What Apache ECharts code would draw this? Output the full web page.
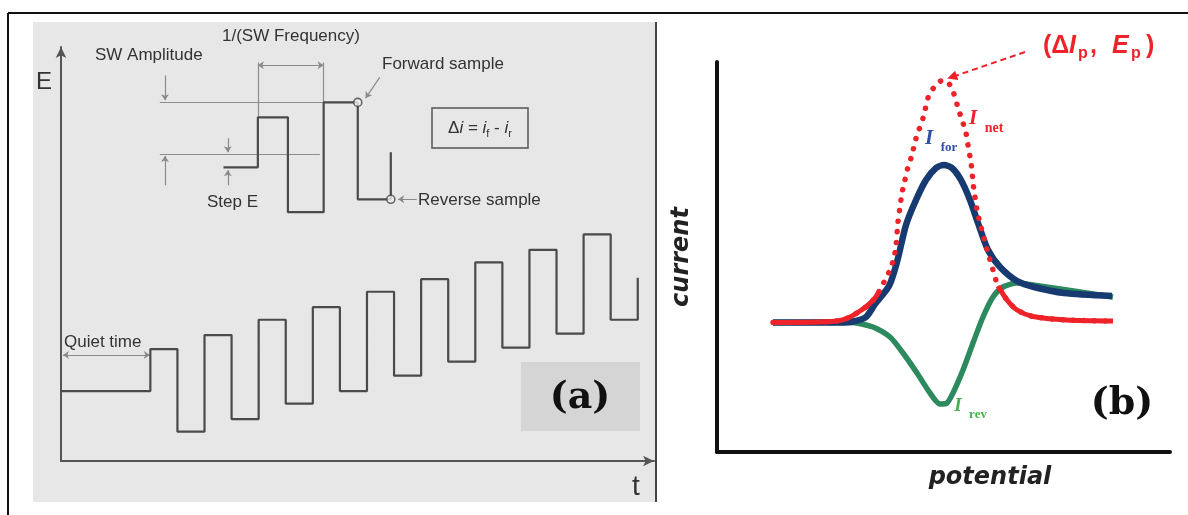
<!DOCTYPE html>
<html><head><meta charset="utf-8">
<script src="https://cdn.jsdelivr.net/npm/echarts@6/dist/echarts.min.js"></script>
<style>html,body{margin:0;padding:0;background:#fff}#c{width:1188px;height:515px}</style>
</head><body><div id="c"></div>
<script>
// ---------- Panel (a): square-wave potential programme ----------
// t in half-periods, E in step-E units
const waveT = [0, 3.3, 4.3, 5.3, 6.3, 7.3, 8.3, 9.3, 10.3, 11.3, 12.3, 13.3, 14.3, 15.3, 16.3, 17.3, 18.3, 19.3, 20.3, 21.3];
const waveE = [5.0, 8.0, 2.1, 9.0, 3.0, 10.1, 4.1, 11.0, 5.0, 12.1, 6.1, 13.0, 7.1, 14.2, 8.1, 15.1, 9.1, 16.2, 10.1, 13.1];
// magnified inset of one cycle
const insetT = [6.0, 7.27, 8.38, 9.70, 10.96, 12.18];
const insetE = [21.0, 24.57, 17.79, 25.64, 18.71, 22.07];
const samplePts = [[10.96, 25.64], [12.18, 18.71]]; // forward, reverse sample
// annotation guides / arrows (same t,E units)
const guideSegs = [[[7.27,28.5],[7.27,24.57]], [[9.70,28.5],[9.70,25.64]], [[3.65,25.64],[9.70,25.64]], [[3.65,21.93],[9.56,21.93]]];
const pointerSegs = [[[3.84,27.57],[3.84,25.8]], [[3.84,19.71],[3.84,21.8]], [[6.16,23.07],[6.16,22.07]], [[6.16,19.71],[6.16,20.79]], [[11.77,27.43],[11.25,25.95]], [[13.14,18.71],[12.45,18.71]]];
const spanSegs = [[[7.27,28.29],[9.70,28.29]], [[0.07,7.57],[3.28,7.57]]];

// ---------- Panel (b): square-wave voltammogram ----------
const netX = [5.6,10.3,12.3,13.3,14.3,15.0,15.8,16.3,16.9,17.3,17.7,17.9,18.1,18.3,18.5,18.8,19.1,19.5,19.8,20.1,20.5,20.8,21.2,21.9,22.6,23.3,23.8,24.1,24.5,24.9,25.1,25.3,25.5,25.6,25.8,26.0,26.3,26.7,27.1,27.6,28.1,29.0,30.0,31.6,35.0,39.6];
const netY = [12.95,13.0,13.15,13.5,14.1,14.6,15.4,16.2,17.4,18.2,19.4,20.7,23.0,24.5,25.9,27.2,28.5,29.7,31.0,32.0,33.0,34.2,35.7,36.7,37.2,36.7,35.5,34.4,33.2,31.9,30.7,29.5,28.2,26.9,25.5,24.2,22.9,21.4,19.9,18.2,16.6,15.2,14.2,13.55,13.2,13.1];
const forX = [5.6,12.3,13.6,14.9,15.8,17.2,18.0,18.9,19.9,20.9,21.9,22.7,23.5,24.4,25.3,26.1,27.1,28.3,30.0,31.7,34.7,39.5];
const forY = [12.95,12.95,13.05,13.5,14.8,16.6,19.0,22.7,25.2,27.2,28.4,28.7,28.4,27.2,25.2,22.9,20.2,18.5,17.1,16.5,15.9,15.6];
const revX = [5.6,13.3,15.6,17.3,18.6,20.0,21.3,22.3,23.0,23.6,24.6,25.6,26.6,27.6,28.6,30.0,31.6,35.0,39.6];
const revY = [12.95,12.95,12.5,11.5,9.9,7.9,5.9,4.8,4.9,5.9,8.2,10.9,13.5,15.5,16.5,16.9,16.7,16.2,15.5];
const peakArrow = [[30.8, 40.0], [23.5, 37.5]];

const zip = (xs, ys) => xs.map((x, i) => [x, ys[i]]);
const netPts = zip(netX, netY);
const RED = '#ee2229', BLUE = '#173b70', GREEN = '#2d8a5e';
const SANS = '"Liberation Sans", Arial, sans-serif';
const SERIF = '"Liberation Serif", "Times New Roman", serif';
const TXT = '#333';

function t(x, y, text, font, fill, opts) {
  return Object.assign({type: 'text', x: x, y: y, z: 100,
    style: Object.assign({text: text, font: font, fill: fill || TXT, align: 'left', verticalAlign: 'middle'}, (opts && opts.style) || {})},
    opts && opts.rot ? {rotation: opts.rot} : {});
}

const chart = echarts.init(document.getElementById('c'), null, {renderer: 'canvas'});
chart.setOption({
  backgroundColor: '#fff',
  animation: false,
  grid: [
    {left: 61, top: 47, width: 593, height: 414},
    {left: 717, top: 62, width: 453, height: 390}
  ],
  xAxis: [
    {gridIndex: 0, type: 'value', min: 0, max: 21.9,
     axisLine: {show: true, symbol: ['none', 'arrow'], symbolSize: [8, 11], lineStyle: {color: '#555', width: 2}},
     axisTick: {show: false}, axisLabel: {show: false}, splitLine: {show: false}},
    {gridIndex: 1, type: 'value', min: 0, max: 45.3,
     axisLine: {show: true, lineStyle: {color: '#111', width: 4}},
     axisTick: {show: false}, axisLabel: {show: false}, splitLine: {show: false}}
  ],
  yAxis: [
    {gridIndex: 0, type: 'value', min: 0, max: 29.6,
     axisLine: {show: true, symbol: ['none', 'arrow'], symbolSize: [8, 11], lineStyle: {color: '#555', width: 2}},
     axisTick: {show: false}, axisLabel: {show: false}, splitLine: {show: false}},
    {gridIndex: 1, type: 'value', min: 0, max: 39,
     axisLine: {show: true, lineStyle: {color: '#111', width: 4}},
     axisTick: {show: false}, axisLabel: {show: false}, splitLine: {show: false}}
  ],
  series: [
    {type: 'line', xAxisIndex: 0, yAxisIndex: 0, step: 'end', showSymbol: false,
     data: zip(waveT, waveE), lineStyle: {color: '#4a4a4a', width: 2.2}},
    {type: 'line', xAxisIndex: 0, yAxisIndex: 0, step: 'end', showSymbol: false,
     data: zip(insetT, insetE), lineStyle: {color: '#4a4a4a', width: 2.2}},
    {type: 'lines', coordinateSystem: 'cartesian2d', xAxisIndex: 0, yAxisIndex: 0, symbol: 'none',
     data: guideSegs.map(c => ({coords: c})), lineStyle: {color: '#8e8e8e', width: 1.2, opacity: 1}},
    {type: 'lines', coordinateSystem: 'cartesian2d', xAxisIndex: 0, yAxisIndex: 0,
     symbol: ['none', 'arrow'], symbolSize: 6,
     data: pointerSegs.map(c => ({coords: c})), lineStyle: {color: '#8a8a8a', width: 1.2, opacity: 1}},
    {type: 'lines', coordinateSystem: 'cartesian2d', xAxisIndex: 0, yAxisIndex: 0,
     symbol: ['arrow', 'arrow'], symbolSize: 6,
     data: spanSegs.map(c => ({coords: c})), lineStyle: {color: '#8a8a8a', width: 1.2, opacity: 1}},
    {type: 'scatter', xAxisIndex: 0, yAxisIndex: 0, symbol: 'circle', symbolSize: 8, z: 5,
     data: samplePts, itemStyle: {color: '#f2f2f2', borderColor: '#444', borderWidth: 1.6}},

    {type: 'line', xAxisIndex: 1, yAxisIndex: 1, smooth: 0.25, showSymbol: false,
     data: zip(revX, revY), lineStyle: {color: GREEN, width: 5.5}},
    {type: 'line', xAxisIndex: 1, yAxisIndex: 1, smooth: 0.25, showSymbol: false,
     data: zip(forX, forY), lineStyle: {color: BLUE, width: 6.5}},
    {type: 'line', xAxisIndex: 1, yAxisIndex: 1, smooth: 0.25, showSymbol: false,
     data: netPts, lineStyle: {color: RED, width: 5.5, type: [0.1, 10.5], cap: 'round'}},
    {type: 'line', xAxisIndex: 1, yAxisIndex: 1, smooth: 0.25, showSymbol: false,
     data: netPts.slice(0, 8), lineStyle: {color: RED, width: 5}},
    {type: 'line', xAxisIndex: 1, yAxisIndex: 1, smooth: 0.25, showSymbol: false,
     data: netPts.slice(40), lineStyle: {color: RED, width: 5}},
    {type: 'lines', coordinateSystem: 'cartesian2d', xAxisIndex: 1, yAxisIndex: 1, clip: false,
     symbol: ['none', 'triangle'], symbolSize: 10, z: 6,
     data: [{coords: peakArrow}], lineStyle: {color: RED, width: 2, type: [6, 4], opacity: 1}}
  ],
  graphic: [
    {type: 'rect', z: -10, shape: {x: 33, y: 22, width: 623, height: 480}, style: {fill: '#e7e7e7'}},
    {type: 'rect', z: -9, shape: {x: 521, y: 362, width: 119, height: 69}, style: {fill: '#d5d5d5'}},
    {type: 'line', z: 50, shape: {x1: 8, y1: 13, x2: 1188, y2: 13}, style: {stroke: '#111', lineWidth: 2}},
    {type: 'line', z: 50, shape: {x1: 8, y1: 13, x2: 8, y2: 515}, style: {stroke: '#111', lineWidth: 2}},
    {type: 'line', z: 50, shape: {x1: 656, y1: 22, x2: 656, y2: 502}, style: {stroke: '#444', lineWidth: 2}},
    {type: 'rect', z: 50, shape: {x: 432, y: 108, width: 96, height: 40}, style: {fill: 'none', stroke: '#555', lineWidth: 1.5}},

    t(36, 82, 'E', '24px ' + SANS),
    t(632, 487, 't', '28px ' + SANS),
    t(95, 55, 'SW Amplitude', '17px ' + SANS),
    t(222, 36, '1/(SW Frequency)', '17px ' + SANS),
    t(382, 64, 'Forward sample', '17px ' + SANS),
    t(207, 202, 'Step E', '17px ' + SANS),
    t(418, 200, 'Reverse sample', '17px ' + SANS),
    t(64, 342, 'Quiet time', '17px ' + SANS),
    t(480, 128, '{n|Δ}{it|i}{n| = }{it|i}{s|f}{n| - }{it|i}{s|r}', '17px ' + SANS, TXT, {style: {align: 'center',
      rich: {n: {font: '17px ' + SANS, fill: TXT, lineHeight: 22},
             it: {font: 'italic 17px ' + SANS, fill: TXT, lineHeight: 22},
             s: {font: '11px ' + SANS, fill: TXT, verticalAlign: 'bottom', lineHeight: 14}}}}),
    t(580, 398, '(a)', 'bold 38px "DejaVu Serif", serif', '#111', {style: {align: 'center'}}),

    t(682, 257, 'current', 'bold italic 24px "DejaVu Sans", sans-serif', '#222', {rot: Math.PI / 2, style: {align: 'center'}}),
    t(990, 478, 'potential', 'bold italic 24px "DejaVu Sans", sans-serif', '#222', {style: {align: 'center'}}),
    t(1122, 404, '(b)', 'bold 38px "DejaVu Serif", serif', '#111', {style: {align: 'center'}}),

    t(973, 119, 'I', 'bold italic 21px ' + SERIF, RED, {style: {align: 'center'}}),
    t(994, 128, 'net', 'bold 14px ' + SERIF, RED, {style: {align: 'center'}}),
    t(929, 139, 'I', 'bold italic 21px ' + SERIF, '#2f4f9f', {style: {align: 'center'}}),
    t(949, 148, 'for', 'bold 13px ' + SERIF, '#2f4f9f', {style: {align: 'center'}}),
    t(958, 406, 'I', 'bold italic 19px ' + SERIF, '#46b050', {style: {align: 'center'}}),
    t(978, 415, 'rev', 'bold 13px ' + SERIF, '#46b050', {style: {align: 'center'}}),

    t(1043, 46, '(Δ', 'bold 25px ' + SANS, RED),
    t(1069, 46, 'I', 'bold italic 25px ' + SANS, RED),
    t(1078, 54, 'p', 'bold 16px ' + SANS, RED),
    t(1090, 46, ',', 'bold 25px ' + SANS, RED),
    t(1112, 46, 'E', 'bold italic 25px ' + SANS, RED),
    t(1131, 54, 'p', 'bold 16px ' + SANS, RED),
    t(1146, 46, ')', 'bold 25px ' + SANS, RED)
  ]
});
</script></body></html>
